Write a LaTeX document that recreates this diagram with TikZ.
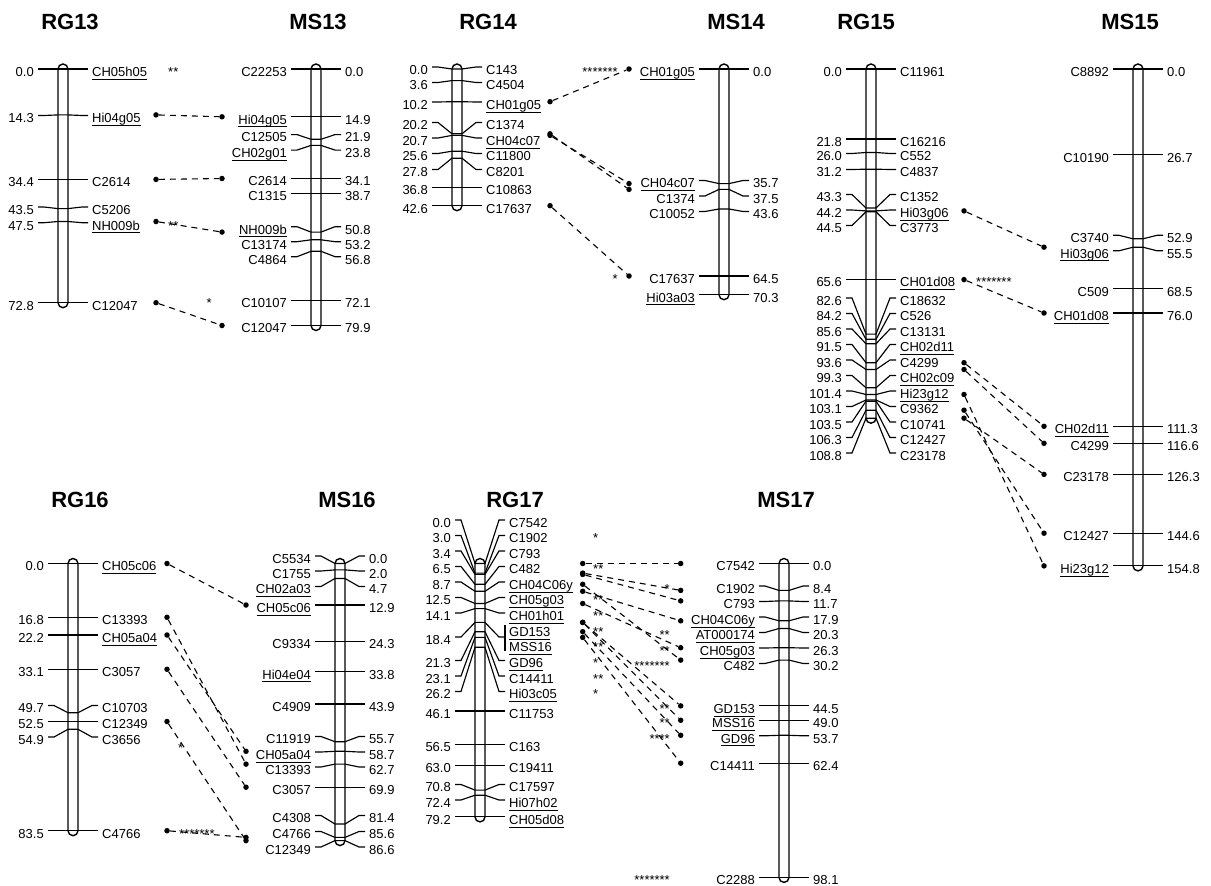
\documentclass[tikz,border=0pt]{standalone}
\usepackage{fontspec}
\setmainfont{Liberation Sans}
\usetikzlibrary{positioning}

\newcommand{\labfont}{\fontsize{13}{15}\selectfont}
\newcommand{\titfont}{\fontsize{22}{26}\selectfont\bfseries}
\newcommand{\mkul}[1]{\setbox0\hbox{#1}\rlap{\rule[-3.2pt]{\wd0}{0.9pt}}\box0}

% one marker: centre x, true y, label y, left text, right text, name
\newcommand{\mkr}[6]{%
  \draw[tick] (#1-25,#3) -- (#1-19,#3) -- (#1-5,#2) -- (#1+5,#2) -- (#1+19,#3) -- (#1+25,#3);
  \node[lab, anchor=base east] (#6-l) at (#1-29,#3+7.3) {#4};
  \node[lab, anchor=base west] (#6-r) at (#1+29,#3+7.3) {#5};}
% chromosome bar: centre x, first y, last y
\newcommand{\chbar}[3]{\draw[chrom] (#1-5,#2-5) rectangle (#1+5,#3+5);}
% link between two maps
\newcommand{\lnk}[5]{%
  \node[dot] (#5-a) at (#1,#2) {};
  \node[dot] (#5-b) at (#3,#4) {};
  \draw[link] (#5-a) -- (#5-b);}

\begin{document}
\begin{tikzpicture}[
    x=1pt, y=-1pt,
    tick/.style={line width=1.15pt},
    chrom/.style={line width=1.4pt, rounded corners=5pt},
    lab/.style={font=\labfont, inner sep=0pt},
    dot/.style={circle, fill, inner sep=0pt, minimum size=5.5pt},
    link/.style={line width=1.1pt, dash pattern=on 6pt off 5pt},
    title/.style={font=\titfont, inner sep=0pt}
]
\useasboundingbox (0,0) rectangle (1211,886);

% titles
\node[title] (t13a) at (70,22) {RG13};
\node[title] (t13b) at (318,22) {MS13};
\node[title] (t14a) at (488,22) {RG14};
\node[title] (t14b) at (736,22) {MS14};
\node[title] (t15a) at (866,22) {RG15};
\node[title] (t15b) at (1130,22) {MS15};
\node[title] (t16a) at (80,500) {RG16};
\node[title] (t16b) at (347,500) {MS16};
\node[title] (t17a) at (515,500) {RG17};
\node[title] (t17b) at (786,500) {MS17};

% RG13
\chbar{63}{69}{302.7}
\foreach \ty/\ly/\ltxt/\rtxt [count=\i] in {
  69/69/0.0/\mkul{CH05h05},
  114.9/115.5/14.3/\mkul{Hi04g05},
  179.4/179.4/34.4/C2614,
  208.6/207/43.5/C5206,
  221.5/222.7/47.5/\mkul{NH009b},
  302.7/302.7/72.8/C12047}
  {\mkr{63}{\ty}{\ly}{\ltxt}{\rtxt}{rg13-\i}}

% MS13
\chbar{316}{69}{325.5}
\foreach \ty/\ly/\ltxt/\rtxt [count=\i] in {
  69/69/C22253/0.0,
  116.8/116.8/\mkul{Hi04g05}/14.9,
  139.3/134.6/C12505/21.9,
  145.4/150.1/\mkul{CH02g01}/23.8,
  178.5/178.5/C2614/34.1,
  193.2/193.2/C1315/38.7,
  232.1/226.7/\mkul{NH009b}/50.8,
  239.8/241.7/C13174/53.2,
  251.3/256.7/C4864/56.8,
  300.4/300.4/C10107/72.1,
  325.5/325.5/C12047/79.9}
  {\mkr{316}{\ty}{\ly}{\ltxt}{\rtxt}{ms13-\i}}

\foreach \ya/\yb [count=\i] in {114.9/116.8, 179.4/178.5, 221.5/232.1, 302.7/325.5}
  {\lnk{156}{\ya}{222}{\yb}{l13-\i}}
\node[lab, anchor=base west] (s13a) at (168,76.3) {**};
\node[lab, anchor=base west] (s13b) at (168,230) {**};
\node[lab, anchor=base east] (s13c) at (212,307.7) {*};

% RG14
\chbar{457}{69}{205.7}
\foreach \ty/\ly/\ltxt/\rtxt [count=\i] in {
  69/67/0.0/C143,
  80.6/82.5/3.6/C4504,
  101.7/102/10.2/\mkul{CH01g05},
  133.8/122.5/20.2/C1374,
  135.4/138/20.7/\mkul{CH04c07},
  151.2/153.5/25.6/C11800,
  158.2/169.5/27.8/C8201,
  187.1/187.1/36.8/C10863,
  205.7/205.7/42.6/C17637}
  {\mkr{457}{\ty}{\ly}{\ltxt}{\rtxt}{rg14-\i}}

% MS14
\chbar{724}{69}{294.7}
\foreach \ty/\ly/\ltxt/\rtxt [count=\i] in {
  69/69/\mkul{CH01g05}/0.0,
  183.6/180.5/\mkul{CH04c07}/35.7,
  189.4/196/C1374/37.5,
  209/211.5/C10052/43.6,
  276/276/C17637/64.5,
  294.7/294.7/\mkul{Hi03a03}/70.3}
  {\mkr{724}{\ty}{\ly}{\ltxt}{\rtxt}{ms14-\i}}

\foreach \ya/\yb [count=\i] in {101.7/69, 133.8/189.4, 135.4/183.6, 205.7/276}
  {\lnk{550}{\ya}{629}{\yb}{l14-\i}}
\node[lab, anchor=base east] (s14a) at (618,76.3) {*******};
\node[lab, anchor=base east] (s14b) at (618,283.3) {*};

% RG15
\chbar{871}{69}{418.2}
\foreach \ty/\ly/\ltxt/\rtxt [count=\i] in {
  69/69/0.0/C11961,
  139/139/21.8/C16216,
  152.5/153.5/26.0/C552,
  169.2/169.5/31.2/C4837,
  208/194.5/43.3/C1352,
  210.9/210/44.2/\mkul{Hi03g06},
  211.8/225.5/44.5/C3773,
  279.6/279.6/65.6/\mkul{CH01d08},
  334.1/298/82.6/C18632,
  339.3/313.5/84.2/C526,
  343.8/329/85.6/C13131,
  362.7/344.5/91.5/\mkul{CH02d11},
  369.5/360/93.6/C4299,
  387.8/375.5/99.3/\mkul{CH02c09},
  394.5/391/101.4/\mkul{Hi23g12},
  400/406.5/103.1/C9362,
  401.2/422/103.5/C10741,
  410.2/437.5/106.3/C12427,
  418.2/453/108.8/C23178}
  {\mkr{871}{\ty}{\ly}{\ltxt}{\rtxt}{rg15-\i}}

% MS15
\chbar{1138}{69}{565.9}
\foreach \ty/\ly/\ltxt/\rtxt [count=\i] in {
  69/69/C8892/0.0,
  154.7/154.7/C10190/26.7,
  238.8/235.3/C3740/52.9,
  247.2/250.8/\mkul{Hi03g06}/55.5,
  288.9/288.9/C509/68.5,
  313/313/\mkul{CH01d08}/76.0,
  426.3/426.3/\mkul{CH02d11}/111.3,
  443.3/443.3/C4299/116.6,
  474.4/474.4/C23178/126.3,
  533.2/533.2/C12427/144.6,
  565.9/565.9/\mkul{Hi23g12}/154.8}
  {\mkr{1138}{\ty}{\ly}{\ltxt}{\rtxt}{ms15-\i}}

\foreach \ya/\yb [count=\i] in {210.9/247.2, 279.6/313, 362.7/426.3, 369.5/443.3,
    394.5/565.9, 410.2/533.2, 418.2/474.4}
  {\lnk{964}{\ya}{1044}{\yb}{l15-\i}}
\node[lab, anchor=base west] (s15a) at (976,286.9) {*******};

% RG16
\chbar{73}{563.5}{830.7}
\foreach \ty/\ly/\ltxt/\rtxt [count=\i] in {
  563.5/563.5/0.0/\mkul{CH05c06},
  617.3/617.3/16.8/C13393,
  635/635/22.2/\mkul{CH05a04},
  669.3/669.3/33.1/C3057,
  712.7/705.5/49.7/C10703,
  721.5/721.5/52.5/C12349,
  729.3/737/54.9/C3656,
  830.7/830.7/83.5/C4766}
  {\mkr{73}{\ty}{\ly}{\ltxt}{\rtxt}{rg16-\i}}

% MS16
\chbar{340}{563.5}{840.6}
\foreach \ty/\ly/\ltxt/\rtxt [count=\i] in {
  563.5/556/C5534/0.0,
  569.9/571/C1755/2.0,
  578.5/586.5/\mkul{CH02a03}/4.7,
  605/605/\mkul{CH05c06}/12.9,
  641.3/641.3/C9334/24.3,
  671.7/671.7/\mkul{Hi04e04}/33.8,
  704/704/C4909/43.9,
  741.7/736.5/C11919/55.7,
  751.3/752/\mkul{CH05a04}/58.7,
  764.1/767/C13393/62.7,
  787.2/787.2/C3057/69.9,
  824/815.5/C4308/81.4,
  837.4/831.5/C4766/85.6,
  840.6/847/C12349/86.6}
  {\mkr{340}{\ty}{\ly}{\ltxt}{\rtxt}{ms16-\i}}

\foreach \ya/\yb [count=\i] in {563.5/605, 617.3/764.1, 635/751.3, 669.3/787.2,
    721.5/840.6, 830.7/837.4}
  {\lnk{167}{\ya}{246}{\yb}{l16-\i}}
\node[lab, anchor=base west] (s16a) at (178,752) {*};
\node[lab, anchor=base west] (s16b) at (179,838) {*******};

% RG17
\chbar{480}{563.5}{816.9}
\foreach \ty/\ly/\ltxt/\rtxt [count=\i] in {
  563.5/520/0.0/C7542,
  573.1/535.5/3.0/C1902,
  574.4/551/3.4/C793,
  584.3/566.5/6.5/C482,
  591.3/582/8.7/\mkul{CH04C06y},
  603.5/597.5/12.5/\mkul{CH05g03},
  608.6/613/14.1/\mkul{CH01h01},
  631.7/660.5/21.3/\mkul{GD96},
  637.4/676/23.1/C14411,
  647.3/691.5/26.2/\mkul{Hi03c05},
  711/711/46.1/C11753,
  744.3/744.3/56.5/C163,
  765.1/765.1/63.0/C19411,
  790.1/784.5/70.8/C17597,
  795.2/800/72.4/\mkul{Hi07h02},
  816.9/816.9/79.2/\mkul{CH05d08}}
  {\mkr{480}{\ty}{\ly}{\ltxt}{\rtxt}{rg17-\i}}
% two markers at 18.4
\draw[tick] (455,637) -- (461,637) -- (475,622.4) -- (485,622.4) -- (499,637) -- (505,637);
\draw[tick] (505,625) -- (505,651);
\node[lab, anchor=base east] (rg17-x-l) at (451,644.3) {18.4};
\node[lab, anchor=base west] (rg17-x-r1) at (509,636.3) {\mkul{GD153}};
\node[lab, anchor=base west] (rg17-x-r2) at (509,651.8) {\mkul{MSS16}};

% MS17
\chbar{784}{563.5}{877.4}
\foreach \ty/\ly/\ltxt/\rtxt [count=\i] in {
  563.5/563.5/C7542/0.0,
  590.4/586/C1902/8.4,
  600.9/601.5/C793/11.7,
  620.8/617/\mkul{CH04C06y}/17.9,
  628.5/632.5/\mkul{AT000174}/20.3,
  647.7/648/\mkul{CH05g03}/26.3,
  660.1/663.5/C482/30.2,
  705.9/705.9/\mkul{GD153}/44.5,
  720.3/720.3/\mkul{MSS16}/49.0,
  735.3/735.8/\mkul{GD96}/53.7,
  763.2/763.2/C14411/62.4,
  877.4/877.4/C2288/98.1}
  {\mkr{784}{\ty}{\ly}{\ltxt}{\rtxt}{ms17-\i}}

\foreach \ya/\yb [count=\i] in {563.5/563.5, 573.1/590.4, 574.4/600.9, 591.3/620.8,
    603.5/647.7, 584.3/660.1, 622.4/705.9, 622.4/720.3, 631.7/735.3, 637.4/763.2}
  {\lnk{582.7}{\ya}{680.7}{\yb}{l17-\i}}
\foreach \y/\s [count=\i] in {535.5/*, 566.5/**, 597.5/**, 613/**, 629/**, 644.5/**,
    660.5/*, 676/**, 691.5/*}
  {\node[lab, anchor=base west] (s17a-\i) at (593,\y+7.3) {\s};}
\foreach \y/\s [count=\i] in {586/*, 632.5/**, 648/**, 663.5/*******, 705.9/**,
    720.3/**, 735.8/****, 877.4/*******}
  {\node[lab, anchor=base east] (s17b-\i) at (670,\y+7.3) {\s};}
\end{tikzpicture}
\end{document}
